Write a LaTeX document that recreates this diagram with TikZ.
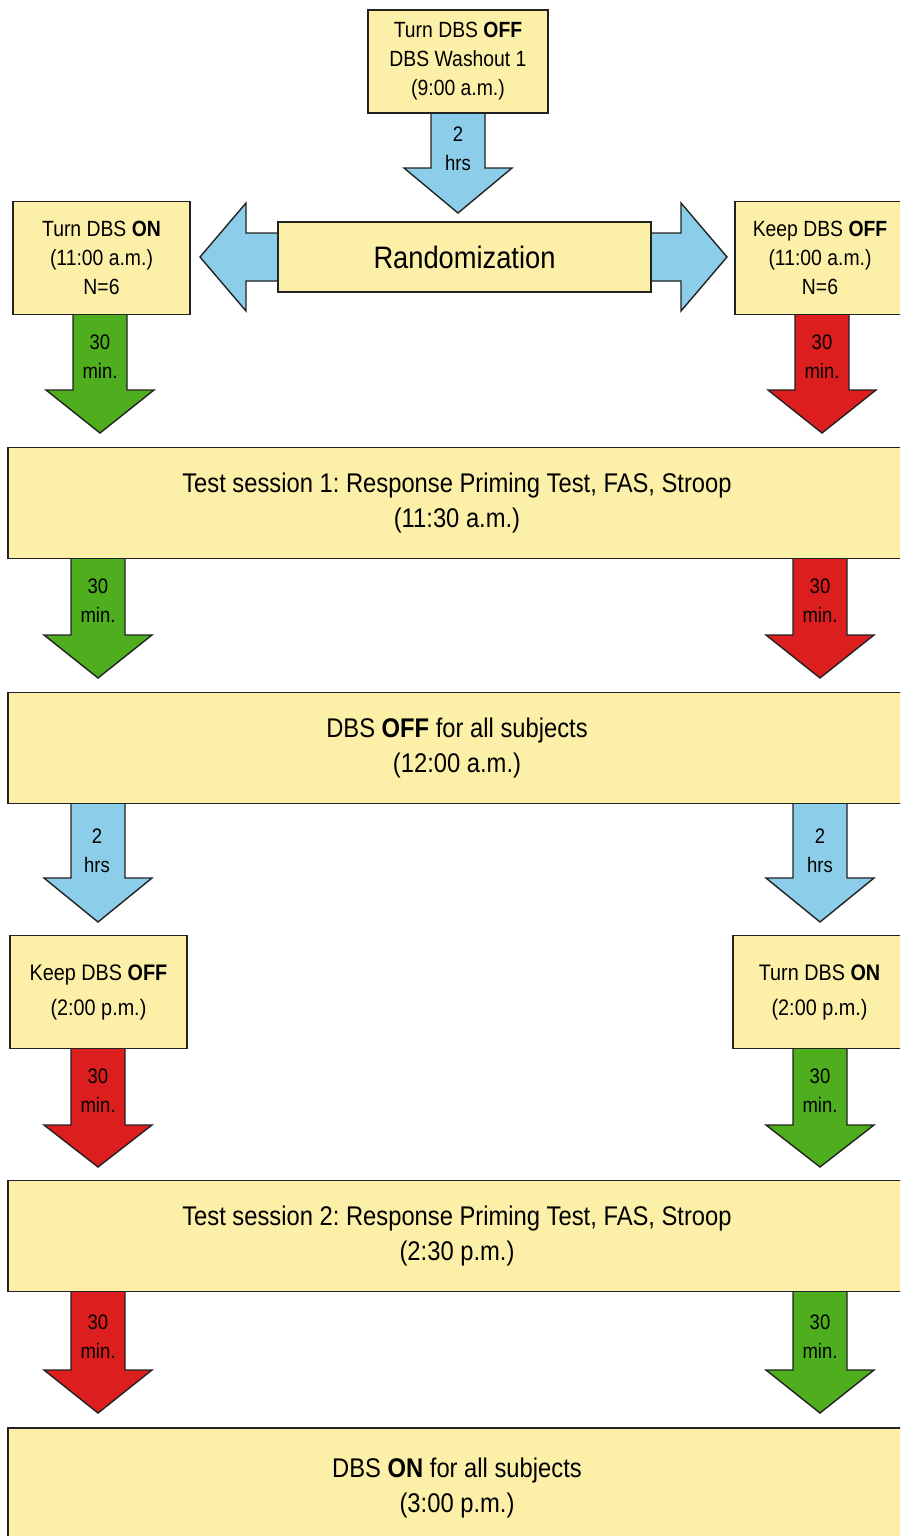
\documentclass[tikz,border=0pt]{standalone}
\usepackage{fontspec}
\setmainfont{Liberation Sans}[FakeStretch=0.88]
\frenchspacing
\definecolor{boxy}{HTML}{FCF0A8}
\definecolor{bluea}{HTML}{8CCEEA}
\definecolor{greena}{HTML}{4EAE1E}
\definecolor{reda}{HTML}{DC1E1E}
\definecolor{edge}{HTML}{222222}
% block arrow pointing down: #1 colour, #2 centre x, #3 top y, #4 head base y, #5 tip y (pixels, downward)
\newcommand{\blockdown}[5]{%
  \draw[arrowline, fill=#1] (#2-27,-#3) -- (#2+27,-#3) -- (#2+27,-#4) -- (#2+54,-#4)
    -- (#2,-#5) -- (#2-54,-#4) -- (#2-27,-#4) -- cycle;}
\begin{document}
\begin{tikzpicture}[x=1pt,y=1pt,
  arrowline/.style={draw=edge, line width=1.4pt, line join=miter},
  box/.style={draw=edge, line width=1.5pt, fill=boxy, inner sep=0pt, align=center,
    font=\fontsize{22}{29}\selectfont},
  bigbox/.style={box, font=\fontsize{27}{35}\selectfont},
  midbox/.style={box, font=\fontsize{22.5}{35}\selectfont},
  lbl/.style={inner sep=0pt, align=center, text=black, font=\fontsize{21}{29}\selectfont}]
\useasboundingbox (0,0) rectangle (900,-1536);
\clip (0,0) rectangle (900,-1536);
\fill[white] (0,0) rectangle (900,-1536);

% ---- arrows (drawn first, boxes on top)
\blockdown{bluea}{458}{113}{168}{213}
\draw[arrowline, fill=bluea] (278,-233) -- (246,-233) -- (246,-203) -- (200,-257)
  -- (246,-311) -- (246,-281) -- (278,-281) -- cycle;
\draw[arrowline, fill=bluea] (651,-233) -- (681,-233) -- (681,-203) -- (727,-257)
  -- (681,-311) -- (681,-281) -- (651,-281) -- cycle;
\blockdown{greena}{100}{313}{390}{433}
\blockdown{reda}{822}{313}{390}{433}
\blockdown{greena}{98}{557}{635}{678}
\blockdown{reda}{820}{557}{635}{678}
\blockdown{bluea}{98}{801}{878}{922}
\blockdown{bluea}{820}{801}{878}{922}
\blockdown{reda}{98}{1047}{1125}{1167}
\blockdown{greena}{820}{1047}{1125}{1167}
\blockdown{reda}{98}{1290}{1370}{1413}
\blockdown{greena}{820}{1290}{1370}{1413}

% ---- boxes
\node[box, minimum width=180, minimum height=103] (washout) at (458,-61.5)
  {Turn DBS \textbf{OFF}\\DBS Washout 1\\(9:00 a.m.)};
\node[box, minimum width=373, minimum height=70, font=\fontsize{31}{36}\selectfont]
  (rand) at (464.5,-257) {Randomization};
\node[box, minimum width=177, minimum height=113] (on1) at (101.5,-258)
  {Turn DBS \textbf{ON}\\(11:00 a.m.)\\N=6};
\node[box, minimum width=170, minimum height=113] (off1) at (820,-258)
  {Keep DBS \textbf{OFF}\\(11:00 a.m.)\\N=6};
\node[bigbox, minimum width=898, minimum height=111] (test1) at (457,-503)
  {Test session 1: Response Priming Test, FAS, Stroop\\(11:30 a.m.)};
\node[bigbox, minimum width=898, minimum height=111] (alloff) at (457,-748)
  {DBS \textbf{OFF} for all subjects\\(12:00 a.m.)};
\node[midbox, minimum width=177, minimum height=113] (off2) at (98.5,-992)
  {Keep DBS \textbf{OFF}\\(2:00 p.m.)};
\node[midbox, minimum width=173, minimum height=113] (on2) at (819.5,-992)
  {Turn DBS \textbf{ON}\\(2:00 p.m.)};
\node[bigbox, minimum width=898, minimum height=111] (test2) at (457,-1236)
  {Test session 2: Response Priming Test, FAS, Stroop\\(2:30 p.m.)};
\node[bigbox, minimum width=898, minimum height=120] (allon) at (457,-1488)
  {DBS \textbf{ON} for all subjects\\(3:00 p.m.)};

% ---- arrow labels
\node[lbl] (l0) at (458,-148.5) {2\\hrs};
\node[lbl] (l1a) at (100,-356.5) {30\\min.};
\node[lbl] (l1b) at (822,-356.5) {30\\min.};
\node[lbl] (l2a) at (98,-600.5) {30\\min.};
\node[lbl] (l2b) at (820,-600.5) {30\\min.};
\node[lbl] (l3a) at (97,-851) {2\\hrs};
\node[lbl] (l3b) at (820,-851) {2\\hrs};
\node[lbl] (l4a) at (98,-1090.5) {30\\min.};
\node[lbl] (l4b) at (820,-1090.5) {30\\min.};
\node[lbl] (l5a) at (98,-1336.5) {30\\min.};
\node[lbl] (l5b) at (820,-1336.5) {30\\min.};
\end{tikzpicture}
\end{document}
